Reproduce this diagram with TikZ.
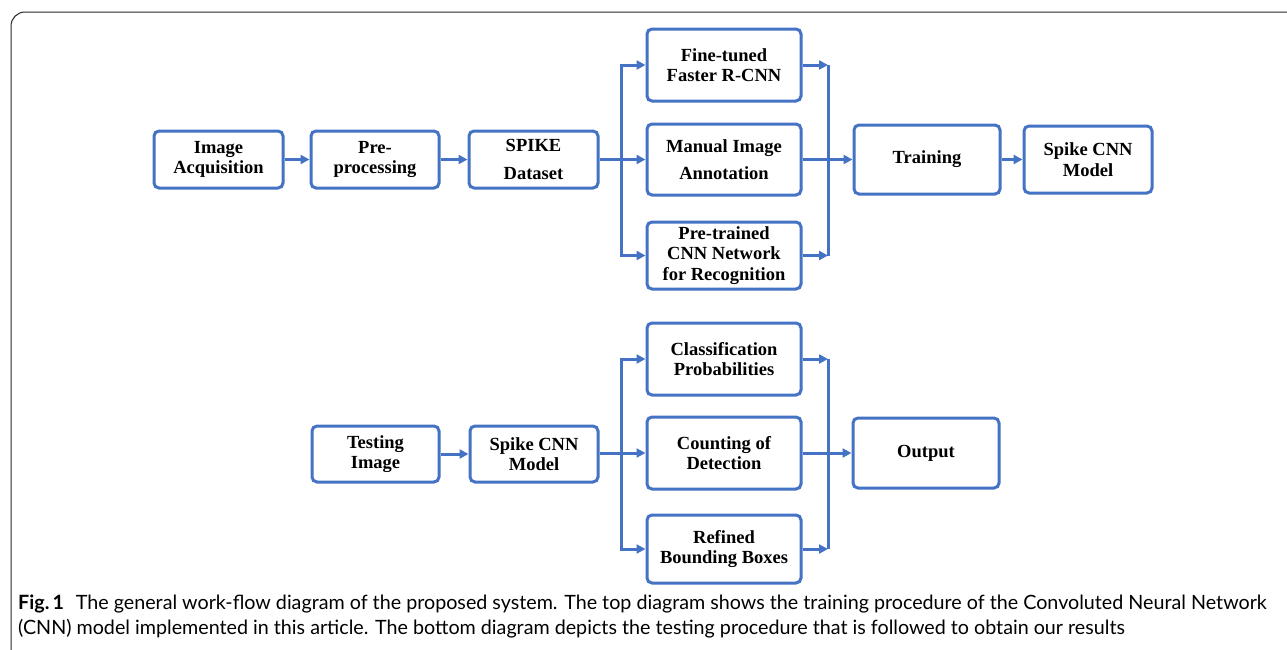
\documentclass[tikz,border=0pt]{standalone}
\usepackage{fontspec}
\setmainfont{Liberation Serif}
\newfontfamily\capfont{Lato}
\usepackage{xcolor}
\usetikzlibrary{arrows.meta,positioning}

\definecolor{flowblue}{RGB}{68,114,196}

\begin{document}
\begin{tikzpicture}[
    x=1pt, y=-1pt,
    box/.style={rectangle, rounded corners=5pt, draw=flowblue, line width=3pt, align=center,
        font=\fontsize{18.5}{20.5}\selectfont\bfseries, inner sep=2pt},
    line/.style={draw=flowblue, line width=3pt},
    link/.style={line, -{Triangle[length=9pt,width=9pt]}},
    captext/.style={anchor=base west, inner sep=0pt, font=\capfont\fontsize{19.7}{24}\selectfont}
]
\useasboundingbox (0,0) rectangle (1287,649);
\draw[black!85, line width=1pt, rounded corners=14pt] (11,652) -- (11,12) -- (1292,12);

% training procedure
\node[box, minimum width=129pt, minimum height=57pt] (acq) at (218.5,159.5) {Image\\Acquisition};
\node[box, minimum width=128pt, minimum height=57pt] (prep) at (375,159.5) {Pre-\\processing};
\node[box, minimum width=129pt, minimum height=57pt] (dset) at (533.5,159.5) {SPIKE\\[7pt]Dataset};
\node[box, minimum width=154pt, minimum height=72pt] (finetune) at (724,65) {Fine-tuned\\Faster R-CNN};
\node[box, minimum width=154pt, minimum height=71pt] (manual) at (724,159.5) {Manual Image\\[7pt]Annotation};
\node[box, minimum width=154pt, minimum height=67pt] (pretrain) at (724,255.5) {Pre-trained\\CNN Network\\for Recognition};
\node[box, minimum width=146pt, minimum height=69pt] (training) at (927,159.5) {Training};
\node[box, minimum width=128pt, minimum height=67pt] (model) at (1088,159.5) {Spike CNN\\Model};

\coordinate (split1) at (621,159.5);
\coordinate (merge1) at (828,159.5);

\draw[link] (acq) -- (prep);
\draw[link] (prep) -- (dset);
\draw[line] (dset.east) -- (split1);
\draw[link] (split1) |- (finetune.west);
\draw[link] (split1) -- (manual.west);
\draw[link] (split1) |- (pretrain.west);
\draw[link] (finetune.east) -- (finetune.east -| merge1);
\draw[link] (pretrain.east) -- (pretrain.east -| merge1);
\draw[line] (finetune.east -| merge1) -- (pretrain.east -| merge1);
\draw[link] (manual.east) -- (training.west);
\draw[link] (training) -- (model);

% testing procedure
\node[box, minimum width=127pt, minimum height=56pt] (testimg) at (375.5,454) {Testing\\Image};
\node[box, minimum width=128pt, minimum height=56pt] (testmodel) at (534,454) {Spike CNN\\Model};
\node[box, minimum width=154pt, minimum height=72pt] (classprob) at (724,359) {Classification\\Probabilities};
\node[box, minimum width=154pt, minimum height=72pt] (counting) at (724,453) {Counting of\\Detection};
\node[box, minimum width=154pt, minimum height=68pt] (refined) at (724,549) {Refined\\Bounding Boxes};
\node[box, minimum width=146pt, minimum height=70pt] (output) at (926,453) {Output};

\coordinate (split2) at (621,453);
\coordinate (merge2) at (828,453);

\draw[link] (testimg) -- (testmodel);
\draw[line] (testmodel.east |- split2) -- (split2);
\draw[link] (split2) |- (classprob.west);
\draw[link] (split2) -- (counting.west);
\draw[link] (split2) |- (refined.west);
\draw[link] (classprob.east) -- (classprob.east -| merge2);
\draw[link] (refined.east) -- (refined.east -| merge2);
\draw[line] (classprob.east -| merge2) -- (refined.east -| merge2);
\draw[link] (counting.east) -- (output.west);

% caption
\node[captext] (cap1) at (18,609) {\textbf{Fig.\,1}\hspace{0.6em}The general work-flow diagram of the proposed system. The top diagram shows the training procedure of the Convoluted Neural Network};
\node[captext] (cap2) at (18,634) {(CNN) model implemented in this article. The bottom diagram depicts the testing procedure that is followed to obtain our results};
\end{tikzpicture}
\end{document}
